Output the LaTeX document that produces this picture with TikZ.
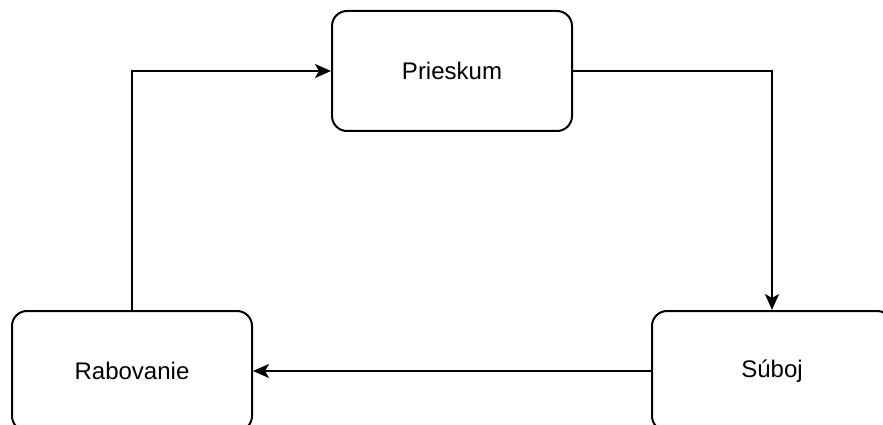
\documentclass[tikz,border=0pt]{standalone}
\usepackage{fontspec}
\setmainfont{Liberation Sans}
\usetikzlibrary{arrows.meta}
\begin{document}
\begin{tikzpicture}[x=1pt,y=-1pt,
  stage/.style={draw, line width=2pt, rounded corners=15pt, minimum width=240pt,
    minimum height=120pt, inner sep=0pt, font=\fontsize{24}{28}\selectfont, fill=white},
  flow/.style={line width=2pt, -{Stealth[length=16pt,width=14pt,inset=4pt]}}]
  \useasboundingbox (0,0) rectangle (883,425);
  \node[stage] (pr) at (452,71) {Prieskum};
  \node[stage] (ra) at (132,371) {Rabovanie};
  \node[stage] (su) at (772,371) {Súboj};
  \draw[flow] (pr.east) -| (su.north);
  \draw[flow] (su.west) -- (ra.east);
  \draw[flow] (ra.north) |- (pr.west);
\end{tikzpicture}
\end{document}
